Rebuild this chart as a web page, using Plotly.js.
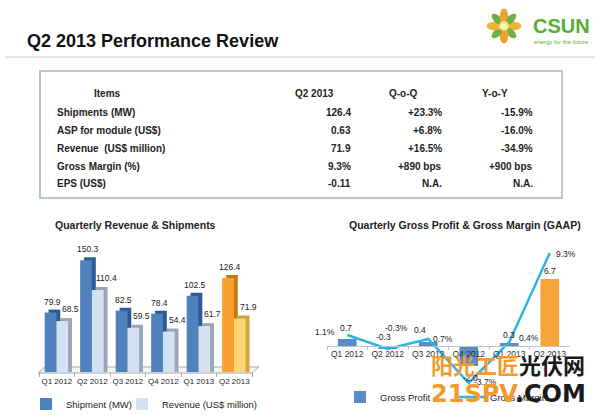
<!DOCTYPE html>
<html><head><meta charset="utf-8">
<script src="https://cdn.plot.ly/plotly-3.0.1.min.js"></script>
<style>html,body{margin:0;padding:0;background:#fff;}#chart{width:600px;height:417px;}</style>
</head><body><div id="chart"></div>
<script>
// ---------------- DATA ----------------
const quarters = ["Q1 2012","Q2 2012","Q3 2012","Q4 2012","Q1 2013","Q2 2013"];
const shipments = [79.9,150.3,82.5,78.4,102.5,126.4];
const revenue = [68.5,110.4,59.5,54.4,61.7,71.9];
const grossProfit = [0.7,-0.3,0.4,-2.0,0.3,6.7];
const grossMargin = [1.1,-0.3,0.7,-3.7,0.4,9.3];
const marginLabels = ["1.1%","-0.3%","0.7%","-3.7%","0.4%","9.3%"];

const tableHeaders = ["Items","Q2 2013","Q-o-Q","Y-o-Y"];
const tableItems = ["Shipments (MW)","ASP for module (US$)","Revenue &nbsp;(US$ million)","Gross Margin (%)","EPS (US$)"];
const tableQ2 = ["126.4","0.63","71.9","9.3%","-0.11"];
const tableQoQ = ["+23.3%","+6.8%","+16.5%","+890 bps","N.A."];
const tableYoY = ["-15.9%","-16.0%","-34.9%","+900 bps","N.A."];

// ---------------- STYLE ----------------
const FONT = "Liberation Sans, Arial, sans-serif";
const W = 600, H = 417;
const px = x => x / W, py = y => 1 - y / H;
const P = (x, y) => `${px(x)},${py(y)}`;

const shipFrontCol = ["#4f81bd","#4f81bd","#4f81bd","#4f81bd","#4f81bd","#f9a030"];
const shipSideCol  = ["#2c5a92","#2c5a92","#2c5a92","#2c5a92","#2c5a92","#c9780f"];
const revFrontCol  = ["#d3e1f3","#d3e1f3","#d3e1f3","#d3e1f3","#d3e1f3","#fdd476"];
const revSideCol   = ["#9aa6b5","#9aa6b5","#9aa6b5","#9aa6b5","#9aa6b5","#d4a23e"];
const gpCol        = ["#5a8cc6","#5a8cc6","#5a8cc6","#5a8cc6","#5a8cc6","#f9a33b"];
// label offsets (pixels) for the right chart
const gmShiftX = [-22, 9, 15, 17, 20, 16];
const gmShiftY = [3, 21, 0, 1, 4, -1];
const gpShiftX = [-1, -4, -8, 2, 0, 0];
const gpShiftY = [11, 9, 12, -12, 8, 8];

const BW = 0.33, SHIP_OFF = -0.34, REV_OFF = -0.01, DX = 0.11, DY = 4;

const traces = [
  {type:'bar', x:quarters, y:shipments.map(v=>v+DY), offset:SHIP_OFF+DX, width:BW,
   marker:{color:shipSideCol}, hoverinfo:'skip', showlegend:false, xaxis:'x', yaxis:'y'},
  {type:'bar', x:quarters, y:shipments, offset:SHIP_OFF, width:BW, name:'Shipment (MW)',
   marker:{color:shipFrontCol}, xaxis:'x', yaxis:'y', legend:'legend'},
  {type:'bar', x:quarters, y:revenue.map(v=>v+DY), offset:REV_OFF+DX, width:BW,
   marker:{color:revSideCol}, hoverinfo:'skip', showlegend:false, xaxis:'x', yaxis:'y'},
  {type:'bar', x:quarters, y:revenue, offset:REV_OFF, width:BW, name:'Revenue (US$ million)',
   marker:{color:revFrontCol}, xaxis:'x', yaxis:'y', legend:'legend3'},
  {type:'bar', x:quarters, y:grossProfit, width:0.46, name:'Gross Profit',
   marker:{color:gpCol}, xaxis:'x2', yaxis:'y2', legend:'legend2'},
  {type:'scatter', mode:'lines', x:quarters, y:grossMargin, name:'Gross Margin',
   line:{color:'#2fb5e3', width:2.5}, cliponaxis:false, xaxis:'x2', yaxis:'y2', legend:'legend4'}
];

const annotations = [];
const txt = (x, y, text, o={}) => annotations.push(Object.assign({
  xref:'paper', yref:'paper', x:px(x), y:py(y), text, showarrow:false,
  xanchor:'left', yanchor:'middle',
  font:{family:FONT, size:10, color:'#222', weight:'bold'}}, o));

// page title
txt(25, 41, "Q2 2013 Performance Review", {font:{family:FONT,size:18,color:'#111',weight:'bold'}});
// logo text
txt(561, 26, "CSUN", {xanchor:'center', font:{family:FONT,size:20,color:'#57ad35',weight:'bold'}});
txt(561, 42, "energy for the future", {xanchor:'center', font:{family:FONT,size:6,color:'#57ad35'}});

// table
const hdrX = [107, 314, 403, 495];
tableHeaders.forEach((h,i)=>txt(hdrX[i], 94, h, {xanchor:'center'}));
const rowY = [112, 130, 148, 166, 184];
tableItems.forEach((t,i)=>{
  txt(55, rowY[i], t);
  txt(353, rowY[i], tableQ2[i], {xanchor:'right'});
  txt(444, rowY[i], tableQoQ[i], {xanchor:'right'});
  txt(535, rowY[i], tableYoY[i], {xanchor:'right'});
});

// chart titles
txt(53, 225, "Quarterly Revenue &amp; Shipments", {font:{family:FONT,size:10.5,color:'#222',weight:'bold'}});
txt(347, 225, "Quarterly Gross Profit &amp; Gross Margin (GAAP)", {font:{family:FONT,size:10.5,color:'#222',weight:'bold'}});

// left chart bar labels
const LBL = {family:FONT,size:8.5,color:'#222'};
quarters.forEach((q,i)=>{
  annotations.push({xref:'x', yref:'y', x:q, y:shipments[i]+DY, text:shipments[i].toFixed(1),
    showarrow:false, yanchor:'bottom', xanchor:'center', xshift:-4, yshift:1, font:LBL});
  annotations.push({xref:'x', yref:'y', x:q, y:revenue[i]+DY, text:revenue[i].toFixed(1),
    showarrow:false, yanchor:'bottom', xanchor:'center', xshift:14, yshift:2, font:LBL});
});
// right chart labels
quarters.forEach((q,i)=>{
  const v = grossProfit[i];
  annotations.push({xref:'x2', yref:'y2', x:q, y: v < -1 ? v : Math.max(v,0), text:v.toFixed(1),
    showarrow:false, yanchor:'middle', xanchor:'center',
    xshift:gpShiftX[i], yshift:gpShiftY[i], font:LBL});
  annotations.push({xref:'x2', yref:'y2', x:q, y:grossMargin[i], text:marginLabels[i],
    showarrow:false, yanchor:'middle', xanchor:'center',
    xshift:gmShiftX[i], yshift:gmShiftY[i], font:LBL});
});

// watermark
txt(508, 364, '<span style="color:#f39a2b">阳光工匠</span><span style="color:#1a1a1a">光伏网</span>',
  {xanchor:'center', font:{family:"Noto Sans CJK SC, sans-serif", size:22, color:'#f39a2b', weight:'bold'}});
txt(508, 394, '<span style="color:#f39a2b">21SPV</span><span style="color:#1a1a1a">.COM</span>',
  {xanchor:'center', font:{family:"DejaVu Sans, sans-serif", size:24, color:'#f39a2b', weight:'bold'}});

// shapes (decoration)
const shapes = [
  {type:'line', xref:'paper', yref:'paper', x0:px(5), x1:px(595), y0:py(57), y1:py(57),
   line:{color:'#dfe7ef', width:2}},
  {type:'rect', xref:'paper', yref:'paper', x0:px(40), x1:px(562), y0:py(198), y1:py(71),
   line:{color:'#b9c5d0', width:2}, layer:'below'},
  {type:'path', xref:'paper', yref:'paper',
   path:`M${P(38,373)} L${P(252,373)} L${P(259,367)} L${P(45,367)} Z`,
   line:{color:'#a8a8a8', width:1}, fillcolor:'#f4f4f4', layer:'below'}
];
// flower logo petals
function ellipsePath(cx, cy, a, b, ang){
  let d = '';
  for(let k=0;k<=24;k++){
    const t = k/24*2*Math.PI;
    const ex = a*Math.cos(t), ey = b*Math.sin(t);
    const x = cx + ex*Math.cos(ang) - ey*Math.sin(ang);
    const y = cy + ex*Math.sin(ang) + ey*Math.cos(ang);
    d += (k?'L':'M') + P(x,y) + ' ';
  }
  return d + 'Z';
}
const FC = [504, 26];
for(let k=0;k<8;k++){
  const ang = k*Math.PI/4;
  const r = 9.5;
  const cx = FC[0] + r*Math.cos(ang), cy = FC[1] + r*Math.sin(ang);
  const green = k%2===1;
  shapes.push({type:'path', xref:'paper', yref:'paper', path:ellipsePath(cx,cy,green?7:8,green?3.6:4.2,ang),
    fillcolor: green ? '#6db33f' : (k===6||k===2 ? '#f0a030' : '#e9b63a'), line:{width:0}});
}
shapes.push({type:'circle', xref:'paper', yref:'paper', x0:px(FC[0]-5), x1:px(FC[0]+5),
  y0:py(FC[1]+5), y1:py(FC[1]-5), fillcolor:'#fbe27a', line:{width:0}});
shapes.push({type:'circle', xref:'paper', yref:'paper', x0:px(FC[0]-2.5), x1:px(FC[0]+2.5),
  y0:py(FC[1]+2.5), y1:py(FC[1]-2.5), fillcolor:'#fff8d8', line:{width:0}});

const legendBase = {orientation:'h', xanchor:'left', yanchor:'middle',
  font:{family:FONT,size:9.5,color:'#222'}, bgcolor:'rgba(0,0,0,0)'};

const layout = {
  width:W, height:H, margin:{l:0,r:0,t:0,b:0,autoexpand:false},
  paper_bgcolor:'#fff', plot_bgcolor:'rgba(0,0,0,0)',
  barmode:'overlay', font:{family:FONT, size:10, color:'#222'},
  xaxis:{domain:[px(39),px(252)], anchor:'y', type:'category', categoryarray:quarters, range:[-0.5,5.5],
    showgrid:false, zeroline:false, showline:false, ticks:'outside', tickson:'boundaries',
    ticklen:4, tickcolor:'#a8a8a8', tickangle:0, ticklabelstandoff:3,
    tickfont:{family:FONT,size:8,color:'#222'}, fixedrange:true, automargin:false},
  yaxis:{domain:[py(372),py(253)], range:[0,160], visible:false, fixedrange:true},
  xaxis2:{domain:[px(327),px(570)], anchor:'free', position:py(346), type:'category',
    categoryarray:quarters, range:[-0.5,5.5], showgrid:false, zeroline:false, showline:true, linecolor:'#c4c4c4',
    ticks:'outside', tickson:'boundaries', ticklen:3, tickcolor:'#c4c4c4', tickangle:0,
    tickfont:{family:FONT,size:8.5,color:'#333'}, fixedrange:true, automargin:false},
  yaxis2:{domain:[py(396),py(246)], range:[-5,10], visible:false, fixedrange:true},
  legend: Object.assign({x:px(26), y:py(404)}, legendBase),
  legend3: Object.assign({x:px(122), y:py(404)}, legendBase),
  legend2: Object.assign({x:px(340), y:py(397)}, legendBase),
  legend4: Object.assign({x:px(450), y:py(397)}, legendBase),
  annotations, shapes, showlegend:true
};

Plotly.newPlot('chart', traces, layout, {displayModeBar:false, staticPlot:true});
</script></body></html>
